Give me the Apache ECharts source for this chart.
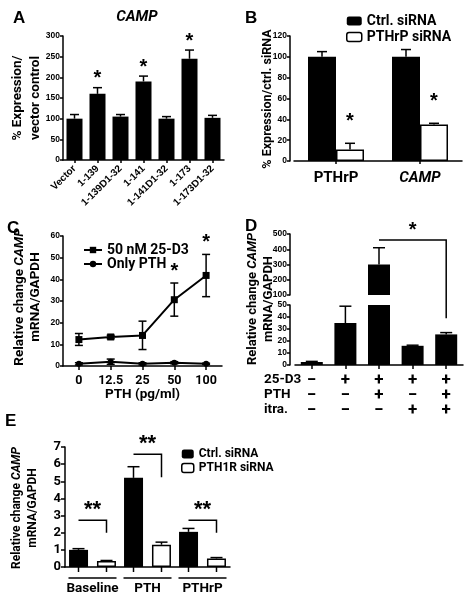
<!DOCTYPE html>
<html><head><meta charset="utf-8">
<script src="https://cdn.jsdelivr.net/npm/echarts@6/dist/echarts.min.js"></script>
<style>html,body{margin:0;padding:0;background:#fff}#c{width:471px;height:600px}</style>
</head><body><div id="c"></div>
<script>
// ---------- Panel A ----------
const aCats = ['Vector','1-139','1-139D1-32','1-141','1-141D1-32','1-173','1-173D1-32'];
const aVals = [100,160,105,190,100,245,102];
const aErr = [10,15,5,13,5,21,6];
const aSig = ['','*','','*','','*',''];
// ---------- Panel B ----------
const bCats = ['PTHrP','CAMP'];
const bCtrl = [100,100];
const bCtrlErr = [5,7];
const bSi = [11,35];
const bSiErr = [6,1.2];
const bSig = ['*','*'];
// ---------- Panel C ----------
const cCats = ['0','12.5','25','50','100'];
const cD3 = [12.2,13.4,14.1,30.6,41.8];
const cD3Lo = [9.5,12.6,7.6,23.0,32.0];
const cD3Hi = [15.0,14.2,20.7,38.3,51.5];
const cPTH = [1.0,2.0,1.0,1.5,1.0];
const cPTHLo = [0.5,0.8,0.5,1.0,0.7];
const cPTHHi = [1.5,3.2,1.5,2.0,1.3];
const cSig = ['','','','*','*'];
// ---------- Panel D ----------
const dCats = ['a','b','c','d','e'];
const dVals = [2.5,35,300,16,25.5];
const dErr = [0.5,14,110,0.5,1.5];
const dRowNames = ['25-D3','PTH','itra.'];
const dRowD3 = ['−','+','+','+','+'];
const dRowPTH = ['−','−','+','−','+'];
const dRowItra = ['−','−','−','+','+'];
const dBracketFrom = 2, dBracketTo = 4, dBracketTop = 460, dBracketEnd = 39;
// ---------- Panel E ----------
const eCats = ['Baseline','PTH','PTHrP'];
const eCtrl = [1.0,5.2,2.05];
const eCtrlErr = [0.07,0.65,0.2];
const eSi = [0.35,1.3,0.5];
const eSiErr = [0.03,0.15,0.05];
const eBracketTop = [2.73,6.57,2.73];
const eBracketEnd = [2.0,5.23,2.0];
const eSig = ['**','**','**'];

const F = 'Roboto, "Noto Sans", sans-serif';
const N = '"Liberation Sans", Arial, sans-serif';
const BLACK = '#000';
const axLine = {show:true, onZero:false, lineStyle:{color:BLACK, width:1.5}};
const tick = (len, align) => ({show:true, length:len, alignWithLabel:!!align, lineStyle:{color:BLACK, width:1.5}});
const LS = {stroke:BLACK, lineWidth:1.5, fill:null};

function yAx(grid, min, max, interval, extra) {
  return Object.assign({type:'value', gridIndex:grid, min, max, interval,
    axisLine:axLine, axisTick:tick(3), splitLine:{show:false},
    axisLabel:{color:BLACK, fontFamily:N, fontWeight:'bold', fontSize:8.5, margin:3}}, extra || {});
}
function errBars(xi, yi, data, offset, capW, twoSided) {
  return {type:'custom', xAxisIndex:xi, yAxisIndex:yi, silent:true, clip:false, z:5, data,
    renderItem(p, api) {
      const x = api.value(0);
      const lo = api.coord([x, api.value(1)]), hi = api.coord([x, api.value(2)]);
      const cx = lo[0] + offset;
      const ch = [
        {type:'line', shape:{x1:cx, y1:lo[1], x2:cx, y2:hi[1]}, style:LS},
        {type:'line', shape:{x1:cx-capW/2, y1:hi[1], x2:cx+capW/2, y2:hi[1]}, style:LS}];
      if (twoSided) ch.push({type:'line', shape:{x1:cx-capW/2, y1:lo[1], x2:cx+capW/2, y2:lo[1]}, style:LS});
      return {type:'group', children:ch};
    }};
}
function annot(xi, yi, data, texts, font, offX, dy) {
  return {type:'custom', xAxisIndex:xi, yAxisIndex:yi, silent:true, clip:false, z:6, data,
    renderItem(p, api) {
      const pt = api.coord([api.value(0), api.value(1)]);
      return {type:'text', x:pt[0] + offX, y:pt[1] - dy,
        style:{text:texts[p.dataIndex], font, fill:BLACK, align:'center', verticalAlign:'middle',
               textAlign:'center', textVerticalAlign:'middle'}};
    }};
}
const starFont = 'bold 20px ' + N;

const aStarData = [], aStarTxt = [];
aSig.forEach((s,i)=>{ if (s) { aStarData.push([i, aVals[i]+aErr[i]]); aStarTxt.push(s); } });
const bStarData = bSi.map((v,i)=>[i, v + bSiErr[i]]);
const cStarData = [], cStarTxt = [];
cSig.forEach((s,i)=>{ if (s) { cStarData.push([i, cD3Hi[i]]); cStarTxt.push(s); } });

const dLowErr = dVals.map((v,i)=>[i, v, v + dErr[i]]).filter(d => d[2] <= 50);
const dUpErr = dVals.map((v,i)=>[i, v, v + dErr[i]]).filter(d => d[1] > 100);
const dUpper = dVals.map(v => v > 100 ? v : '-');

const option = {
  backgroundColor:'#fff',
  animation:false,
  grid:[
    {left:63, top:36, width:161, height:124},
    {left:294, top:36, width:168, height:125},
    {left:63, top:236, width:159, height:130},
    {left:295, top:234, width:168, height:61},
    {left:295, top:305, width:168, height:60},
    {left:65, top:447, width:165, height:120}
  ],
  xAxis:[
    {type:'category', gridIndex:0, data:aCats, axisLine:axLine, axisTick:tick(3, true),
     axisLabel:{rotate:45, color:BLACK, fontFamily:N, fontWeight:'bold', fontSize:10, margin:7, interval:0}},
    {type:'category', gridIndex:1, data:bCats, axisLine:axLine, axisTick:tick(3, true),
     axisLabel:{color:BLACK, fontFamily:F, fontWeight:'bold', fontSize:15, margin:10, interval:0,
       formatter:v => v === 'CAMP' ? '{i|CAMP}' : v, rich:{i:{fontStyle:'italic', fontWeight:'bold', fontFamily:F, fontSize:15}}}},
    {type:'category', gridIndex:2, data:cCats, axisLine:axLine, axisTick:tick(4, true),
     axisLabel:{color:BLACK, fontFamily:F, fontWeight:'bold', fontSize:12.5, margin:8, interval:0},
     name:'PTH (pg/ml)', nameLocation:'middle', nameGap:22,
     nameTextStyle:{color:BLACK, fontFamily:F, fontWeight:'bold', fontSize:13.5}},
    {type:'category', gridIndex:3, data:dCats, show:false},
    {type:'category', gridIndex:4, data:dCats, axisLine:axLine, axisTick:tick(4, true),
     axisLabel:{color:BLACK, fontFamily:F, fontWeight:'bold', fontSize:17, lineHeight:15, margin:8, interval:0,
       formatter:(v,i) => dRowD3[i] + '\n' + dRowPTH[i] + '\n' + dRowItra[i]}},
    {type:'category', gridIndex:5, data:eCats, axisLine:axLine, axisTick:{show:false},
     axisLabel:{color:BLACK, fontFamily:F, fontWeight:'bold', fontSize:13.5, margin:15, interval:0}}
  ],
  yAxis:[
    yAx(0, 0, 300, 50),
    yAx(1, 0, 120, 20, {offset:4}),
    yAx(2, 0, 60, 10),
    yAx(3, 100, 500, 100, {offset:5}),
    yAx(4, 0, 50, 10, {offset:5}),
    yAx(5, 0, 7, 1, {axisLabel:{color:BLACK, fontFamily:F, fontWeight:'bold', fontSize:13, margin:4},
      axisTick:tick(4)})
  ],
  legend:[
    {data:[{name:'Ctrl. siRNA', itemStyle:{color:BLACK}},
           {name:'PTHrP siRNA', itemStyle:{color:'#fff', borderColor:BLACK, borderWidth:1.5}}],
     orient:'vertical', left:341, top:8, itemWidth:15, itemHeight:9, itemGap:0, selectedMode:false,
     textStyle:{color:BLACK, fontFamily:F, fontWeight:'bold', fontSize:14, lineHeight:16}},
    {data:['50 nM 25-D3','Only PTH'], orient:'vertical', left:78, top:238, itemWidth:18, itemHeight:8,
     itemGap:0, selectedMode:false,
     textStyle:{color:BLACK, fontFamily:F, fontWeight:'bold', fontSize:14, lineHeight:13}},
    {data:[{name:'Ctrl. siRNA', itemStyle:{color:BLACK}},
           {name:'PTH1R siRNA', itemStyle:{color:'#fff', borderColor:BLACK, borderWidth:1.5}}],
     orient:'vertical', left:176, top:442, itemWidth:12, itemHeight:9, itemGap:0, selectedMode:false,
     textStyle:{color:BLACK, fontFamily:F, fontWeight:'bold', fontSize:12, lineHeight:14}}
  ],
  series:[
    {type:'bar', xAxisIndex:0, yAxisIndex:0, data:aVals, barWidth:16, itemStyle:{color:BLACK}, silent:true},
    errBars(0, 0, aVals.map((v,i)=>[i, v, v + aErr[i]]), 0, 9, false),
    annot(0, 0, aStarData, aStarTxt, starFont, 0, 9),
    {type:'bar', name:'Ctrl. siRNA', xAxisIndex:1, yAxisIndex:1, data:bCtrl, barWidth:28, barGap:'0%',
     itemStyle:{color:BLACK}, silent:true},
    {type:'bar', name:'PTHrP siRNA', xAxisIndex:1, yAxisIndex:1, data:bSi, barWidth:28,
     itemStyle:{color:'#fff', borderColor:BLACK, borderWidth:1.5}, silent:true},
    errBars(1, 1, bCtrl.map((v,i)=>[i, v, v + bCtrlErr[i]]), -14, 10, false),
    errBars(1, 1, bSi.map((v,i)=>[i, v, v + bSiErr[i]]), 14, 10, false),
    annot(1, 1, bStarData, bSig, starFont, 14, 22),
    {type:'line', name:'50 nM 25-D3', xAxisIndex:2, yAxisIndex:2, data:cD3, symbol:'rect', symbolSize:7,
     itemStyle:{color:BLACK}, lineStyle:{color:BLACK, width:2}, silent:true, z:4},
    {type:'line', name:'Only PTH', xAxisIndex:2, yAxisIndex:2, data:cPTH, symbol:'circle', symbolSize:6,
     itemStyle:{color:BLACK}, lineStyle:{color:BLACK, width:2}, silent:true, z:4},
    errBars(2, 2, cD3.map((v,i)=>[i, cD3Lo[i], cD3Hi[i]]), 0, 8, true),
    errBars(2, 2, cPTH.map((v,i)=>[i, cPTHLo[i], cPTHHi[i]]), 0, 8, true),
    annot(2, 2, cStarData, cStarTxt, starFont, 0, 12),
    {type:'bar', xAxisIndex:3, yAxisIndex:3, data:dUpper, barWidth:22, itemStyle:{color:BLACK}, silent:true, clip:true},
    {type:'bar', xAxisIndex:4, yAxisIndex:4, data:dVals, barWidth:22, itemStyle:{color:BLACK}, silent:true, clip:true},
    errBars(3, 3, dUpErr, 0, 12, false),
    errBars(4, 4, dLowErr, 0, 12, false),
    {type:'bar', name:'Ctrl. siRNA', xAxisIndex:5, yAxisIndex:5, data:eCtrl, barWidth:19, barGap:'47%',
     itemStyle:{color:BLACK}, silent:true},
    {type:'bar', name:'PTH1R siRNA', xAxisIndex:5, yAxisIndex:5, data:eSi, barWidth:19,
     itemStyle:{color:'#fff', borderColor:BLACK, borderWidth:1.5}, silent:true},
    errBars(5, 5, eCtrl.map((v,i)=>[i, v, v + eCtrlErr[i]]), -14, 12, false),
    errBars(5, 5, eSi.map((v,i)=>[i, v, v + eSiErr[i]]), 14, 12, false),
    {type:'custom', xAxisIndex:5, yAxisIndex:5, silent:true, clip:false, z:6,
     data:eCats.map((c,i)=>[i, eBracketTop[i], eBracketEnd[i]]),
     renderItem(p, api) {
       const i = api.value(0);
       const t = api.coord([i, api.value(1)]), e = api.coord([i, api.value(2)]), b = api.coord([i, 0]);
       return {type:'group', children:[
         {type:'polyline', shape:{points:[[t[0]-14, t[1]], [t[0]+14, t[1]], [t[0]+14, e[1]]]}, style:LS},
         {type:'text', x:t[0], y:t[1]-10, style:{text:eSig[p.dataIndex], font:'bold 22px ' + N, fill:BLACK,
           align:'center', verticalAlign:'middle', textAlign:'center', textVerticalAlign:'middle'}},
         {type:'line', shape:{x1:b[0]-14, y1:b[1], x2:b[0]-14, y2:b[1]+5}, style:LS},
         {type:'line', shape:{x1:b[0]+14, y1:b[1], x2:b[0]+14, y2:b[1]+5}, style:LS},
         {type:'line', shape:{x1:b[0]-24, y1:b[1]+11, x2:b[0]+24, y2:b[1]+11}, style:LS}
       ]};
     }}
  ]
};

const chart = echarts.init(document.getElementById('c'), null, {renderer:'canvas'});
chart.setOption(option);

const p1 = chart.convertToPixel({gridIndex:3}, [dBracketFrom, dBracketTop]);
const p2 = chart.convertToPixel({gridIndex:3}, [dBracketTo, dBracketTop]);
const p3 = chart.convertToPixel({gridIndex:4}, [dBracketTo, dBracketEnd]);
const pRow = chart.convertToPixel({gridIndex:4}, [0, 0]);
const txt = (t, x, y, font, extra) => Object.assign({type:'text', x, y,
  style:{text:t, font, fill:BLACK, align:'left', verticalAlign:'middle', textAlign:'left', textVerticalAlign:'middle'}}, extra || {});
const vtxt = (t, x, y, size, lh) => ({type:'text', x, y, rotation:Math.PI/2,
  style:{text:t, font:'bold ' + size + 'px ' + F, fill:BLACK, lineHeight:lh,
    align:'center', verticalAlign:'middle', textAlign:'center', textVerticalAlign:'middle',
    rich:{i:{fontStyle:'italic', fontWeight:'bold', fontFamily:F, fontSize:size, lineHeight:lh}}}});
const letterFont = 'bold 17px ' + N;
chart.setOption({graphic:[
  txt('A', 13, 18, letterFont),
  txt('B', 245, 18, letterFont),
  txt('C', 7, 228, letterFont),
  txt('D', 245, 226, letterFont),
  txt('E', 5, 421, letterFont),
  {type:'text', x:137, y:17, style:{text:'CAMP', font:'italic bold 15px ' + F, fill:BLACK,
    align:'center', verticalAlign:'middle', textAlign:'center', textVerticalAlign:'middle'}},
  vtxt('% Expression/\nvector control', 27, 98, 13.5, 18),
  vtxt('% Expression/ctrl. siRNA', 268, 99, 12.5, 16),
  vtxt('Relative change {i|CAMP}\nmRNA/GAPDH', 28, 297, 13.5, 16),
  vtxt('Relative change {i|CAMP}\nmRNA/GAPDH', 261, 299, 13, 16),
  vtxt('Relative change {i|CAMP}\nmRNA/GAPDH', 25, 508, 12, 16),
  ...dRowNames.map((n, k) => txt(n, 264, pRow[1] + 15 + k * 15, 'bold 13.5px ' + F)),
  {type:'polyline', shape:{points:[[p1[0], p1[1]], [p2[0], p2[1]], [p3[0], p3[1]]]}, style:{stroke:BLACK, lineWidth:1.5, fill:null}},
  {type:'text', x:(p1[0] + p2[0]) / 2, y:p1[1] - 10, style:{text:'*', font:starFont, fill:BLACK,
    align:'center', verticalAlign:'middle', textAlign:'center', textVerticalAlign:'middle'}}
]});
</script>
</body></html>
